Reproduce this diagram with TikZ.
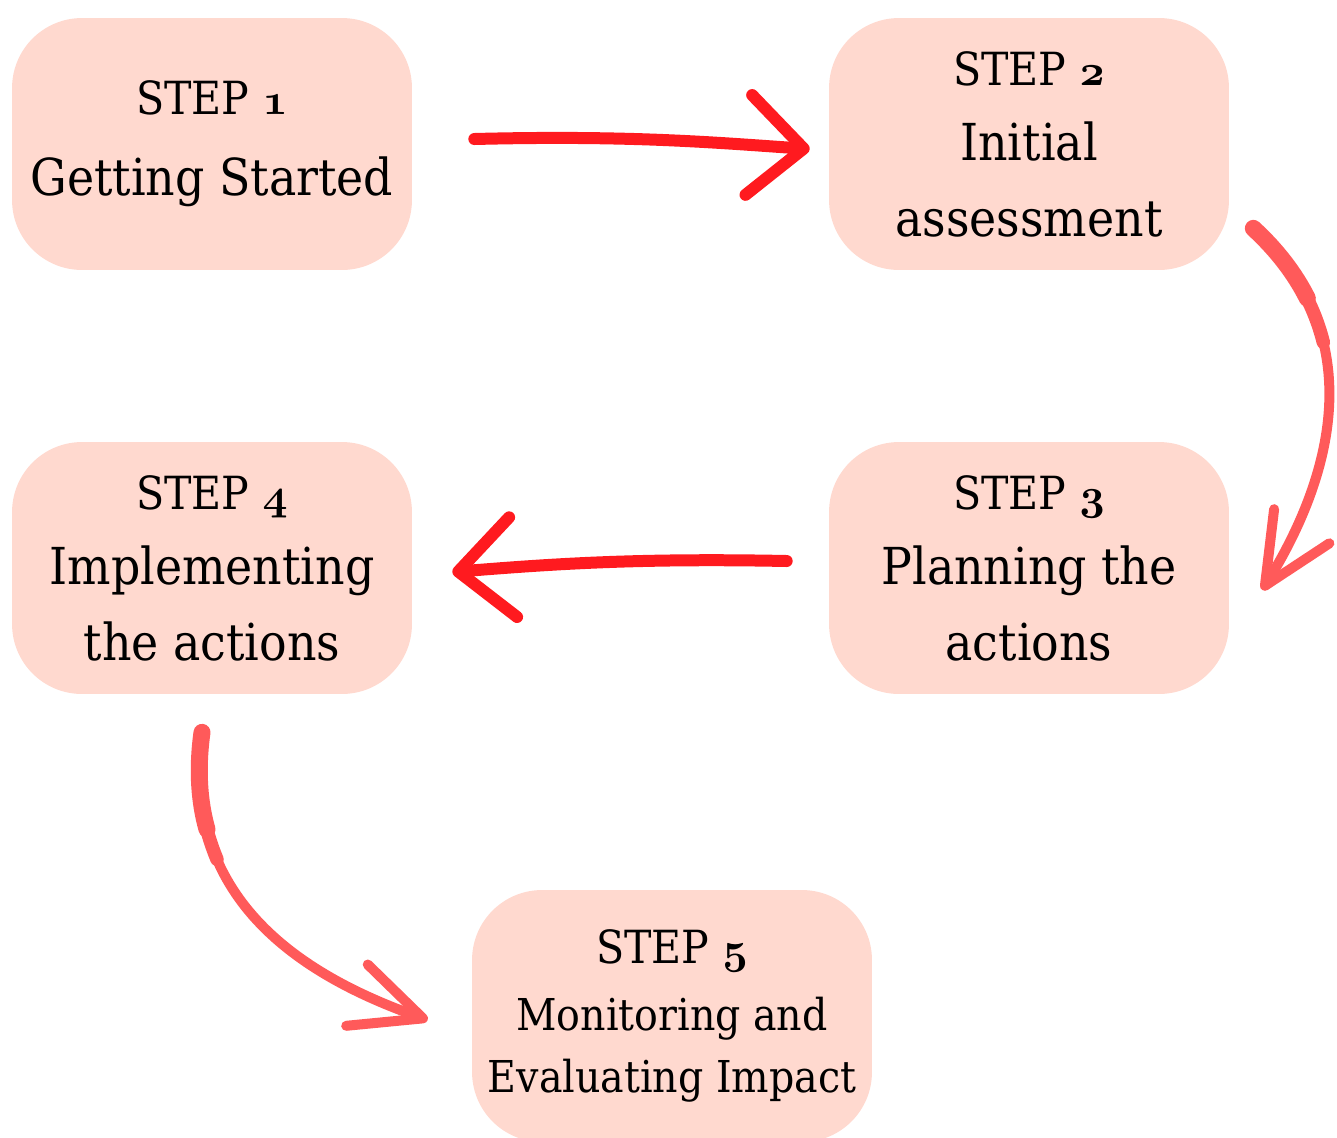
\documentclass[tikz,border=0pt]{standalone}
\usepackage{fontspec}
\setmainfont{DejaVu Serif Condensed}
\usepackage{tikz}
\usetikzlibrary{arrows.meta, calc}

\definecolor{boxfill}{HTML}{FFD9CF}
\definecolor{inkred}{HTML}{FF1A1F}
\definecolor{inkcoral}{HTML}{FF5A5A}

% old style figures for the step numbers
\newcommand\osf[1]{{\usefont{OML}{cmm}{b}{it}#1}}
\newcommand\stepline[1]{\fontsize{26}{42}\selectfont STEP~\osf{#1}}

\begin{document}
\begin{tikzpicture}[x=0.02cm, y=-0.02cm,
    stepbox/.style={fill=boxfill, rounded corners=1.4cm, minimum width=8cm, minimum height=5.04cm,
                    inner sep=0pt, align=center, font=\fontsize{29}{43}\selectfont},
    flat/.style={draw=inkred, line width=0.24cm, line cap=round,
                 -{Straight Barb[length=1.1cm, width=2cm, round]}},
    curly/.style={draw=inkcoral, line width=0.2cm, line cap=round,
                  -{Straight Barb[length=1.4cm, width=1.3cm, round]}},
    brush/.style={draw=inkcoral, line width=#1, line cap=round}]

    \useasboundingbox (0,0) rectangle (1337,1137);

    % the five steps
    \node [stepbox] (s1) at (212,144) {\stepline{1}\\[3pt]Getting Started};
    \node [stepbox] (s2) at (1029,144) {\stepline{2}\\Initial\\assessment};
    \node [stepbox] (s3) at (1029,568) {\stepline{3}\\Planning the\\actions};
    \node [stepbox] (s4) at (212,568) {\stepline{4}\\Implementing\\the actions};
    \node [stepbox, font=\fontsize{25}{35}\selectfont] (s5) at (672,1016)
        {\stepline{5}\\[3pt]Monitoring and\\Evaluating Impact};

    % loose ends of the strokes
    \coordinate (a12) at ($(s1.east)+(62,-5)$);
    \coordinate (b12) at ($(s2.west)+(-19,5)$);
    \coordinate (a34) at ($(s3.west)+(-42,-7)$);
    \coordinate (b34) at ($(s4.east)+(40,4)$);
    \coordinate (a23) at ($(s2.south east)+(24,-42)$);
    \coordinate (b23) at ($(s3.east)+(33,22)$);
    \coordinate (a45) at ($(s4.south)+(-10,38)$);
    \coordinate (b45) at ($(s5.west)+(-44,4)$);

    \draw[flat] (a12) .. controls +(160,-4) and +(-90,-6) .. (b12);
    \draw[flat] (a34) .. controls +(-150,-3) and +(100,-8) .. (b34);

    % curved strokes, heavier where the brush starts
    \draw[curly] (a23) .. controls +(120,110) and +(68,-110) .. (b23);
    \draw[brush=0.27cm] (a23) .. controls ($(a23)+(38,35)$) and ($(a23)+(60,74)$) .. ($(a23)+(70,114)$);
    \draw[brush=0.34cm] (a23) .. controls ($(a23)+(24,22)$) and ($(a23)+(42,46)$) .. ($(a23)+(54,70)$);

    \draw[curly] (a45) .. controls +(-22,165) and +(-128,-45) .. (b45);
    \draw[brush=0.27cm] (a45) .. controls ($(a45)+(-7,50)$) and ($(a45)+(0,91)$) .. ($(a45)+(15,127)$);
    \draw[brush=0.34cm] (a45) .. controls ($(a45)+(-5,36)$) and ($(a45)+(-3,69)$) .. ($(a45)+(5,97)$);
\end{tikzpicture}
\end{document}
